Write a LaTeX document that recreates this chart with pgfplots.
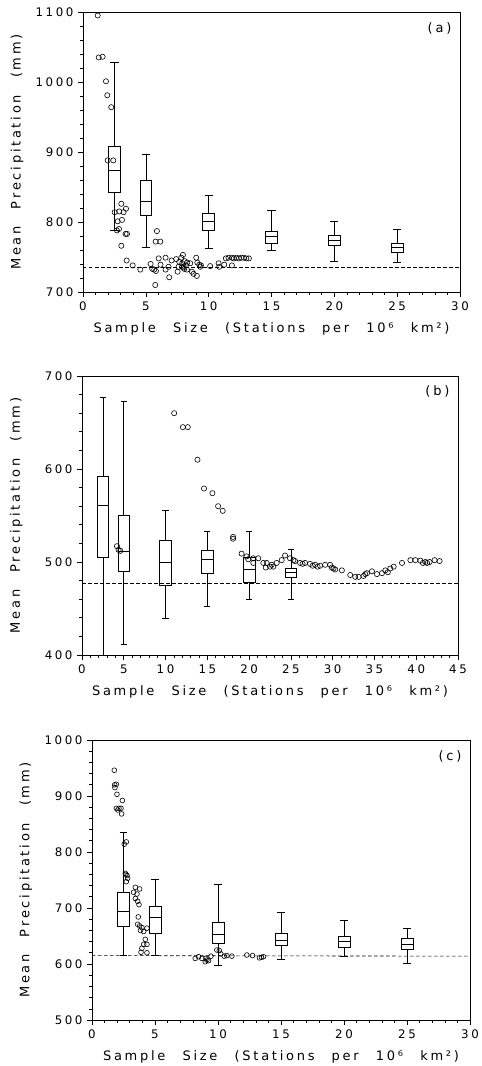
\documentclass[border=0pt]{standalone}
\usepackage{fontspec}
\setmainfont{DejaVu Sans}[LetterSpace=22]
\newfontfamily\labfont{DejaVu Sans}[LetterSpace=21, WordSpace=2.5]
\usepackage{pgfplots}
\pgfplotsset{compat=1.18}
\usepgfplotslibrary{statistics}
\pgfplotsset{
  panel/.style={
    scale only axis,
    anchor=south west,
    boxplot/draw direction=y,
    /pgf/number format/assume math mode=true,
    /pgf/number format/set thousands separator={},
    axis line style={line width=0.7pt},
    tick style={black, line width=0.6pt},
    tick align=outside,
    major tick length=5pt,
    minor tick length=3pt,
    minor x tick num=4,
    minor y tick num=4,
    xtick pos=bottom, ytick pos=left,
    tick label style={font=\fontsize{11.8}{13}\selectfont},
    yticklabel style={xshift=-1pt},
    xticklabel style={yshift=-1pt},
    label style={font=\labfont\fontsize{13}{15}\selectfont},
    xlabel={Sample Size (Stations per 10⁶ km²)},
    ylabel={Mean Precipitation (mm)},
    xlabel style={at={(axis description cs:0.5,0)}, anchor=center, yshift=-37pt},
    ylabel style={at={(axis description cs:-0.175,0.5)}, anchor=center},
    clip=false,
    every axis plot/.append style={black, line width=0.6pt},
  },
  pts/.style={only marks, mark=o, mark size=2.6pt, mark options={line width=0.6pt}},
  bx/.style={black, line width=0.65pt, solid},
}
\begin{document}
\begin{tikzpicture}
\useasboundingbox (0,0) rectangle (482pt,1066pt);
% ---------------- (a)
\begin{axis}[panel, at={(83pt,774pt)}, width=377pt, height=280pt,
  xmin=0, xmax=30, ymin=700, ymax=1100,
  xtick={0,5,...,30}, ytick={700,800,...,1100}]
\addplot[dashed, dash pattern=on 3.5pt off 2.5pt, line width=0.6pt] coordinates {(0,735) (30,735)};
\addplot[bx, boxplot prepared={draw position=2.5, lower whisker=788, lower quartile=842, median=874, upper quartile=908, upper whisker=1028, box extend=0.95, whisker extend=0.65}] coordinates {};
\addplot[bx, boxplot prepared={draw position=5, lower whisker=764, lower quartile=809, median=829, upper quartile=860, upper whisker=897, box extend=0.95, whisker extend=0.65}] coordinates {};
\addplot[bx, boxplot prepared={draw position=10, lower whisker=762, lower quartile=788, median=801, upper quartile=813, upper whisker=838, box extend=0.95, whisker extend=0.65}] coordinates {};
\addplot[bx, boxplot prepared={draw position=15, lower whisker=760, lower quartile=769, median=779, upper quartile=787, upper whisker=817, box extend=0.95, whisker extend=0.65}] coordinates {};
\addplot[bx, boxplot prepared={draw position=20, lower whisker=744, lower quartile=766, median=774, upper quartile=781, upper whisker=801, box extend=0.95, whisker extend=0.65}] coordinates {};
\addplot[bx, boxplot prepared={draw position=25, lower whisker=742, lower quartile=756, median=764, upper quartile=770, upper whisker=790, box extend=0.95, whisker extend=0.65}] coordinates {};
\addplot[pts] coordinates {
(1.17,1095) (1.25,1035) (1.56,1036) (1.83,1001) (1.93,981) (2.25,964)
(1.96,888) (2.41,888) (3.05,826) (3.42,819) (2.52,814) (2.89,815) (3.23,814)
(2.76,801) (3.10,803) (2.86,790) (2.70,788) (3.39,783) (3.50,783) (3.05,766)
(3.47,745) (3.95,738) (4.56,732) (5.38,740) (5.51,733) (5.67,732) (5.80,730)
(5.75,710) (5.88,787) (5.78,772) (6.15,772) (6.02,748) (6.17,739) (6.57,749)
(6.57,732) (6.86,721) (6.81,736) (7.05,745) (7.42,747) (7.53,729) (7.66,743)
(7.82,749) (7.95,753) (7.61,736) (7.87,736) (8.06,733) (8.19,738) (8.27,732)
(7.90,741) (8.10,744) (8.00,735) (8.30,742) (8.53,741) (8.67,729) (8.80,726)
(9.01,749) (9.06,723) (9.10,742) (9.25,739) (9.33,736) (9.38,738) (10.12,737)
(10.79,741) (10.84,736) (11.24,739) (11.37,748) (11.58,749) (11.85,738)
(11.85,749) (12.0,748) (12.2,749) (12.4,748) (12.6,749) (12.8,749) (13.0,748) (13.2,748)
};
\node[anchor=east, font=\fontsize{13}{15}\selectfont] at (axis description cs:0.987,0.943) {(a)};
\end{axis}
% ---------------- (b)
\begin{axis}[panel, at={(82pt,411pt)}, width=376pt, height=279pt,
  xmin=0, xmax=45, ymin=400, ymax=700,
  xtick={0,5,...,45}, ytick={400,500,600,700}]
\addplot[dashed, dash pattern=on 3.5pt off 2.5pt, line width=0.6pt] coordinates {(0,477) (45,477)};
\addplot[bx, boxplot prepared={draw position=2.5, lower whisker=400, lower quartile=505, median=561, upper quartile=592, upper whisker=677, box extend=1.4, whisker extend=0.75}] coordinates {};
\addplot[bx, boxplot prepared={draw position=5, lower whisker=411, lower quartile=489.5, median=511.5, upper quartile=550, upper whisker=673, box extend=1.4, whisker extend=0.75}] coordinates {};
\addplot[bx, boxplot prepared={draw position=10, lower whisker=439, lower quartile=475, median=499.5, upper quartile=523, upper whisker=556, box extend=1.4, whisker extend=0.75}] coordinates {};
\addplot[bx, boxplot prepared={draw position=15, lower whisker=452, lower quartile=488, median=502.5, upper quartile=513, upper whisker=532.5, box extend=1.4, whisker extend=0.75}] coordinates {};
\addplot[bx, boxplot prepared={draw position=20, lower whisker=460, lower quartile=478, median=492, upper quartile=505, upper whisker=532.5, box extend=1.4, whisker extend=0.75}] coordinates {};
\addplot[bx, boxplot prepared={draw position=25, lower whisker=460, lower quartile=484, median=489, upper quartile=493, upper whisker=513.5, box extend=1.4, whisker extend=0.75}] coordinates {};
\addplot[pts] coordinates {
(4.18,517) (4.38,513) (4.58,512) (11.03,660) (12.07,645) (12.66,645) (13.82,610)
(14.61,579) (15.61,574) (16.29,560) (16.84,555) (18.08,527) (18.08,525)
(19.1,509) (19.7,506) (19.9,503) (20.5,504) (21.1,504) (20.5,499) (21.7,499)
(22.1,499) (22.5,495) (22.9,495) (23.3,499) (23.9,502) (24.3,507) (24.9,504)
(25.5,501) (26.1,499) (26.7,499) (27.3,498) (27.9,497) (28.5,496) (29.1,497)
(29.7,497) (30.1,493) (31.1,491) (32.1,486) (32.7,484) (33.1,484) (33.7,485)
(34.1,488) (34.7,490) (35.3,487) (35.9,488) (36.3,491) (36.9,493) (37.3,495)
(38.3,499) (39.3,502) (39.9,502) (40.5,501.5) (41.1,500) (41.6,500) (42.2,502) (42.8,501)
(22.0,494) (22.7,497) (25.3,502) (26.4,498) (27.6,496) (28.2,495) (29.9,494)
(30.3,492) (33.9,487) (36.6,489) (40.8,499) (41.3,499)
};
\node[anchor=east, font=\fontsize{13}{15}\selectfont] at (axis description cs:0.987,0.945) {(b)};
\end{axis}
% ---------------- (c)
\begin{axis}[panel, at={(92pt,46pt)}, width=378pt, height=280pt,
  xmin=0, xmax=30, ymin=500, ymax=1000,
  xtick={0,5,...,30}, ytick={500,600,...,1000}]
\addplot[dashed, dash pattern=on 3.5pt off 2.5pt, line width=0.6pt] coordinates {(0,615) (30,614)};
\addplot[bx, boxplot prepared={draw position=2.5, lower whisker=615, lower quartile=667, median=694.5, upper quartile=728, upper whisker=834.5, box extend=0.93, whisker extend=0.6}] coordinates {};
\addplot[bx, boxplot prepared={draw position=5, lower whisker=616, lower quartile=655, median=682.5, upper quartile=702.5, upper whisker=751, box extend=0.93, whisker extend=0.6}] coordinates {};
\addplot[bx, boxplot prepared={draw position=10, lower whisker=598, lower quartile=637, median=653, upper quartile=674, upper whisker=742, box extend=0.93, whisker extend=0.6}] coordinates {};
\addplot[bx, boxplot prepared={draw position=15, lower whisker=609, lower quartile=633, median=643, upper quartile=655.5, upper whisker=691.5, box extend=0.93, whisker extend=0.6}] coordinates {};
\addplot[bx, boxplot prepared={draw position=20, lower whisker=613, lower quartile=629, median=640, upper quartile=650, upper whisker=678.5, box extend=0.93, whisker extend=0.6}] coordinates {};
\addplot[bx, boxplot prepared={draw position=25, lower whisker=602, lower quartile=626, median=636, upper quartile=646, upper whisker=663, box extend=0.93, whisker extend=0.6}] coordinates {};
\addplot[pts, mark size=2.4pt] coordinates {
(1.77,946) (1.80,920) (1.93,921) (1.82,915) (1.98,903) (2.41,892)
(1.93,878) (2.14,878) (2.30,878) (2.05,875) (2.35,868)
(2.56,814) (2.72,818) (2.64,762) (2.78,758) (2.83,753) (2.72,747) (2.70,760)
(3.44,737) (3.78,734) (3.30,728) (3.57,725) (3.44,717) (3.62,712) (3.73,706)
(3.67,684) (3.62,671) (3.78,668) (3.96,665) (4.10,658) (4.36,664) (3.85,660)
(4.23,644) (4.10,635) (4.36,635) (3.96,628) (3.89,621) (4.36,620)
(8.19,610) (8.46,613) (8.72,610) (8.99,604) (9.12,607) (9.25,606) (9.05,610)
(9.44,614) (9.91,625) (10.10,624) (10.23,618) (10.49,614) (10.70,615) (11.10,614)
(12.29,616) (12.74,615) (13.29,611) (13.45,612) (13.61,613)
};
\node[anchor=east, font=\fontsize{13}{15}\selectfont] at (axis description cs:0.987,0.94) {(c)};
\end{axis}
\end{tikzpicture}
\end{document}
